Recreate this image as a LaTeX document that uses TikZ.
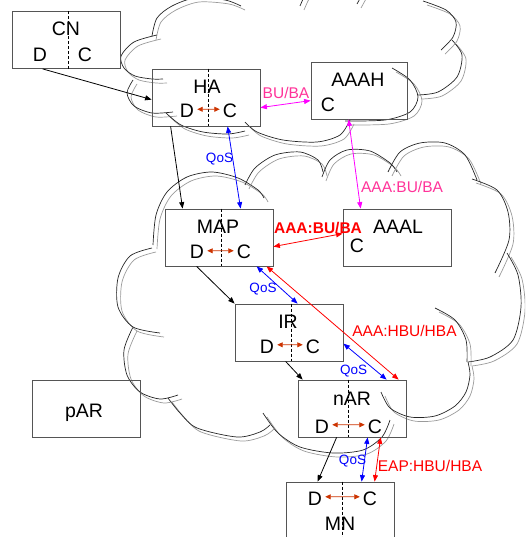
\documentclass[tikz,border=0pt]{standalone}
\usepackage{fontspec}
\setmainfont{Liberation Sans}
\usetikzlibrary{arrows.meta,calc}

\definecolor{boxgray}{RGB}{85,85,85}
\definecolor{shadegray}{RGB}{155,155,155}
\definecolor{hotpink}{RGB}{255,51,153}
\definecolor{mag}{RGB}{255,0,255}
\definecolor{qblue}{RGB}{0,0,255}
\definecolor{qred}{RGB}{255,0,0}
\definecolor{rust}{RGB}{204,51,0}

% one scalloped lobe of a cloud: dark outline plus a lighter offset copy
\newcommand\cloudlobe[1]{%
  \draw[cloudshade] plot[smooth] coordinates {#1};
  \draw[cloudedge] plot[smooth] coordinates {#1};}

\begin{document}
\begin{tikzpicture}[x=1pt,y=-1pt,
  cloudedge/.style={black!85, line width=0.7pt},
  cloudshade/.style={shadegray, line width=0.7pt, shift={(4,4)}},
  box/.style={draw=boxgray, line width=0.8pt, minimum width=108pt, minimum height=57pt, inner sep=0pt},
  divider/.style={black, line width=0.8pt, dash pattern=on 3pt off 2pt},
  big/.style={anchor=base, inner sep=1.5pt, font=\fontsize{19.5}{21}\selectfont},
  tag/.style={anchor=base, inner sep=0pt, font=\fontsize{15.5}{17}\selectfont},
  qos/.style={anchor=base, inner sep=0pt, text=qblue, font=\fontsize{13.5}{15}\selectfont},
  flow/.style={line width=0.8pt, -{Triangle[length=6.5pt,width=5pt]}},
  both/.style={line width=0.8pt, {Triangle[length=6.5pt,width=5pt]}-{Triangle[length=6.5pt,width=5pt]}},
  inner/.style={rust, line width=0.9pt, shorten <=1.5pt, shorten >=1.5pt,
    {Triangle[length=5.5pt,width=5pt]}-{Triangle[length=5.5pt,width=5pt]}}
]
\useasboundingbox (0,0) rectangle (525,537);
\clip (0,0) rectangle (525,537);

% ---------- upper cloud ----------
\cloudlobe{(152,36) (157,18) (172,6) (195,-2) (225,0) (241,6)}
\cloudlobe{(157,35) (134,42) (121,56) (124,68) (135,76) (152,79) (163,79)}
\cloudlobe{(133,80) (127,93) (134,106) (152,113) (173,112)}
\cloudlobe{(166,113) (181,125) (203,132) (228,134) (245,131)}
\cloudlobe{(245,122) (257,132) (283,140) (317,142) (340,135) (350,120)}
\cloudlobe{(392,68) (410,80) (418,97) (410,112) (385,120) (345,121)}
\cloudlobe{(418,95) (438,92) (457,77) (462,55) (452,40)}
\cloudlobe{(441,50) (453,37) (456,22) (446,10) (423,1)}
\cloudlobe{(300,6) (305,-5) (312,-15)}
\cloudlobe{(357,4) (362,-5) (368,-15)}

% ---------- lower cloud ----------
\cloudlobe{(153,245) (156,215) (167,192) (187,177) (212,172) (238,178) (258,190) (264,198)}
\cloudlobe{(245,185) (255,168) (275,155) (300,152) (318,160) (323,172)}
\cloudlobe{(322,177) (330,160) (347,150) (370,151) (390,163) (397,172)}
\cloudlobe{(388,172) (400,152) (420,143) (445,143) (465,155) (477,180)}
\cloudlobe{(472,179) (497,190) (508,212) (509,240) (495,273)}
\cloudlobe{(507,253) (518,275) (521,307) (513,340) (490,357) (468,362)}
\cloudlobe{(435,308) (455,320) (466,340) (467,362)}
\cloudlobe{(381,392) (390,408) (410,417) (435,416) (455,406) (466,392) (470,375) (468,362)}
\cloudlobe{(263,413) (278,433) (300,447) (333,453) (363,450) (382,437) (390,420)}
\cloudlobe{(168,398) (180,413) (197,428) (237,437) (260,432) (270,425)}
\cloudlobe{(133,327) (124,350) (127,375) (140,392) (160,399) (178,395)}
\cloudlobe{(152,248) (130,256) (118,278) (118,307) (133,327) (160,333)}

% ---------- boxes ----------
\node[box] (CN)   at (66,40)     {};
\node[box] (HA)   at (206,97.5)  {};
\node[box, minimum width=96pt] (AAAH) at (359,90.5) {};
\node[box] (MAP)  at (219,237.5) {};
\node[box] (AAAL) at (397,237.5) {};
\node[box] (IR)   at (289,332.5) {};
\node[box] (nAR)  at (352,408.5) {};
\node[box] (pAR)  at (86,408.5)  {};
\node[box] (MN)   at (340,510.5) {};

% data / control dividers
\draw[divider] ($(CN.north west)+(57,0)$)  -- ($(CN.south west)+(57,0)$);
\draw[divider] ($(HA.north west)+(57,0)$)  -- ($(HA.south west)+(57,0)$);
\draw[divider] ($(MAP.north west)+(57,0)$) -- ($(MAP.south west)+(57,0)$);
\draw[divider] ($(IR.north west)+(57,0)$)  -- ($(IR.south west)+(57,0)$);
\draw[divider] ($(nAR.north west)+(51,0)$) -- ($(nAR.south west)+(51,0)$);
\draw[divider] ($(MN.north west)+(57,0)$)  -- ($(MN.south west)+(57,0)$);

% ---------- box texts ----------
\node[big] (CNt)   at (66,36)   {CN};
\node[big] (CNd)   at (40,62)   {D};
\node[big] (CNc)   at (85,62)   {C};
\node[big] (HAt)   at (207,94)  {HA};
\node[big] (HAd)   at (187,118) {D};
\node[big] (HAc)   at (230,118) {C};
\node[big] (AAAHt) at (358,87)  {AAAH};
\node[big] (AAAHc) at (328,112) {C};
\node[big] (MAPt)  at (218,233) {MAP};
\node[big] (MAPd)  at (197,258) {D};
\node[big] (MAPc)  at (244,258) {C};
\node[big] (AAALt) at (398,233) {AAAL};
\node[big] (AAALc) at (357,252) {C};
\node[big] (IRt)   at (288,328) {IR};
\node[big] (IRd)   at (267,353) {D};
\node[big] (IRc)   at (313,353) {C};
\node[big] (nARt)  at (352,405) {nAR};
\node[big] (nARd)  at (322,433) {D};
\node[big] (nARc)  at (375,433) {C};
\node[big] (pARt)  at (84,417)  {pAR};
\node[big] (MNd)   at (315,505) {D};
\node[big] (MNc)   at (370,505) {C};
\node[big] (MNt)   at (340,530) {MN};

% data-plane to control-plane arrows inside the boxes
\draw[inner] ([yshift=2pt]HAd.east)  -- ([yshift=2pt]HAc.west);
\draw[inner] ([yshift=0.5pt]MAPd.east) -- ([yshift=0.5pt]MAPc.west);
\draw[inner] ([yshift=1.5pt]IRd.east)  -- ([yshift=1.5pt]IRc.west);
\draw[inner] ([yshift=1.5pt]nARd.east) -- ([yshift=1.5pt]nARc.west);
\draw[inner] ([yshift=1.5pt]MNd.east)  -- ([yshift=1.5pt]MNc.west);

% ---------- data path ----------
\draw[flow, black] ($(CN.south west)+(31,0)$)  -- ($(HA.north west)+(0,31)$);
\draw[flow, black] ($(HA.south west)+(19,0)$)  -- ($(MAP.north west)+(18,0)$);
\draw[flow, black] ($(MAP.south west)+(32,0)$) -- (IR.north west);
\draw[flow, black] ($(IR.south west)+(51,0)$)  -- ($(nAR.north west)+(5,0)$);
\draw[flow, black] ($(nAR.south west)+(39,0)$) -- ($(MN.north west)+(32,0)$);

% ---------- signalling ----------
\draw[both, mag] ($(HA.north east)+(0,39)$) -- ($(AAAH.north west)+(0,39)$);
\node[tag, text=hotpink] (lbuba) at (286,99) {BU/BA};
\draw[both, mag] ($(AAAH.south west)+(38,0)$) -- ($(AAAL.north west)+(18,0)$);
\node[tag, text=hotpink] (laaa1) at (402,193) {AAA:BU/BA};

\draw[both, qblue] ($(HA.south west)+(76,0)$) -- ($(MAP.north west)+(76,0)$);
\node[qos] (q1) at (219.5,163) {QoS};

\draw[both, qred] ($(MAP.north east)+(0,38)$) -- ($(AAAL.north west)+(0,25)$);
\node[tag, text=qred, font=\fontsize{15.5}{17}\selectfont\bfseries] (laaa2) at (318,233) {AAA:BU/BA};

\draw[both, qblue] ($(MAP.south west)+(92,0)$) -- ($(IR.north west)+(63,0)$);
\node[qos] (q2) at (263,292) {QoS};

\draw[both, qred] ($(MAP.south west)+(102,0)$) -- ($(nAR.north west)+(101,0)$);
\node[tag, text=qred] (lhbu) at (404.5,336) {AAA:HBU/HBA};

\draw[both, qblue] ($(IR.north east)+(0,40)$) -- ($(nAR.north west)+(89,0)$);
\node[qos] (q3) at (353.5,374) {QoS};

\draw[both, qblue] ($(nAR.south west)+(70,0)$) -- ($(MN.north west)+(76,0)$);
\node[qos] (q4) at (352.5,464) {QoS};

\draw[both, qred] ($(nAR.south west)+(83,0)$) -- ($(MN.north west)+(89,0)$);
\node[tag, text=qred] (leap) at (430,471) {EAP:HBU/HBA};
\end{tikzpicture}
\end{document}
